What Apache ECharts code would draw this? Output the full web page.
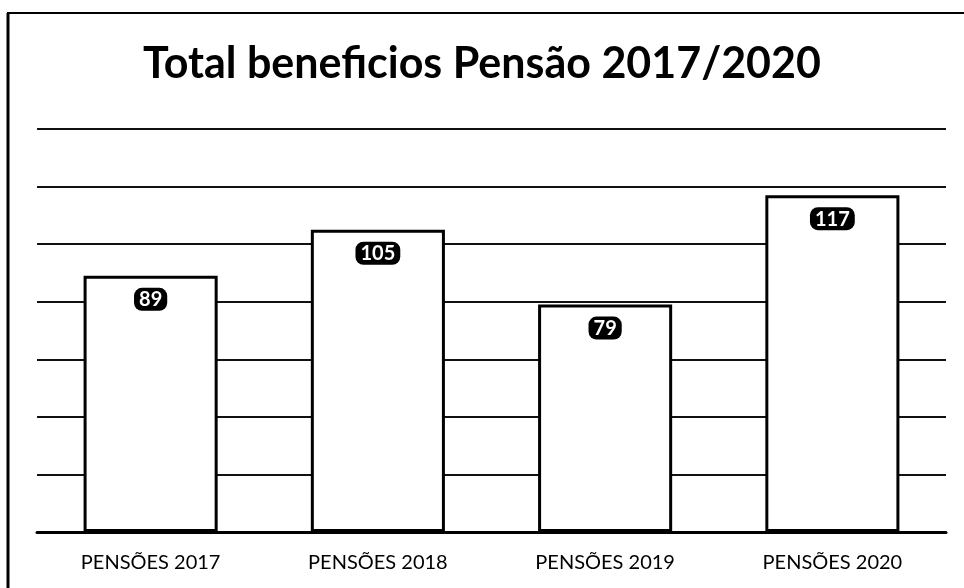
<!DOCTYPE html>
<html>
<head>
<meta charset="utf-8">
<script src="https://cdn.jsdelivr.net/npm/echarts@6/dist/echarts.min.js"></script>
<style>
html,body{margin:0;padding:0;background:#fff;}
#c{width:964px;height:588px;}
</style>
</head>
<body>
<div id="c"></div>
<script>
const titleText = 'Total beneficios Pensão 2017/2020';
const categories = ['PENSÕES 2017', 'PENSÕES 2018', 'PENSÕES 2019', 'PENSÕES 2020'];
const values = [89, 105, 79, 117];
const yMin = 0, yMax = 140, yInterval = 20;

const chart = echarts.init(document.getElementById('c'));
chart.setOption({
  animation: false,
  backgroundColor: '#fff',
  title: {
    text: titleText,
    left: 'center',
    top: 38,
    textStyle: { fontFamily: 'Lato', fontWeight: 'bold', fontSize: 43, color: '#000' }
  },
  graphic: [
    { type: 'line', shape: { x1: 8, y1: 13, x2: 8, y2: 588 }, style: { stroke: '#000', lineWidth: 3 } },
    { type: 'line', shape: { x1: 7, y1: 13, x2: 964, y2: 13 }, style: { stroke: '#000', lineWidth: 2 } }
  ],
  grid: { left: 37, right: 18, top: 129, bottom: 56 },
  xAxis: {
    type: 'category',
    data: categories,
    axisLine: { lineStyle: { color: '#000', width: 3 } },
    axisTick: { show: false },
    axisLabel: { color: '#000', fontFamily: 'Lato', fontSize: 20, margin: 21 }
  },
  yAxis: {
    type: 'value',
    min: yMin, max: yMax, interval: yInterval,
    axisLabel: { show: false },
    axisLine: { show: false },
    axisTick: { show: false },
    splitLine: { lineStyle: { color: '#111', width: 2 } }
  },
  series: [{
    type: 'bar',
    data: values,
    barWidth: '59%',
    itemStyle: { color: '#fff', borderColor: '#000', borderWidth: 3 },
    label: {
      show: true,
      position: 'insideTop',
      distance: 12,
      color: '#fff',
      fontFamily: 'Lato',
      fontWeight: 'bold',
      fontSize: 20,
      backgroundColor: '#000',
      borderRadius: 8,
      padding: [2, 5, 1, 5]
    }
  }]
});
</script>
</body>
</html>
